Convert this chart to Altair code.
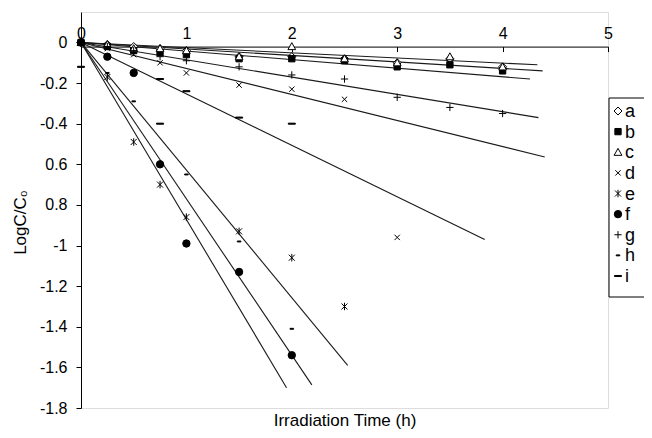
import altair as alt
import pandas as pd

series = ["a", "b", "c", "d", "e", "f", "g", "h", "i"]

# Irradiation times (h) and LogC/C0 values
t_std = [0, 0.25, 0.5, 0.75, 1, 1.5, 2, 2.5, 3, 3.5, 4]
a_vals = [0, -0.01, -0.02, -0.03, -0.04, -0.07, -0.07, -0.08, -0.10, -0.08, -0.12]
b_vals = [0, -0.02, -0.04, -0.05, -0.06, -0.08, -0.08, -0.09, -0.12, -0.11, -0.14]
c_vals = [0, -0.01, -0.03, -0.03, -0.04, -0.07, -0.02, -0.08, -0.10, -0.07, -0.12]
g_vals = [0, -0.02, -0.04, -0.07, -0.09, -0.12, -0.16, -0.18, -0.27, -0.32, -0.35]
d_t = [0, 0.25, 0.5, 0.75, 1, 1.5, 2, 2.5, 3]
d_vals = [0, -0.03, -0.06, -0.10, -0.15, -0.21, -0.23, -0.28, -0.96]
e_t = [0, 0.25, 0.5, 0.75, 1, 1.5, 2, 2.5]
e_vals = [0, -0.17, -0.49, -0.70, -0.86, -0.93, -1.06, -1.30]
f_t = [0, 0.25, 0.5, 0.75, 1, 1.5, 2]
f_vals = [0, -0.07, -0.15, -0.60, -0.99, -1.13, -1.54]
h_t = [0.25, 0.5, 1, 1.5, 2]
h_vals = [-0.15, -0.29, -0.65, -0.98, -1.41]
i_t = [0, 0.75, 0.75, 1, 1.5, 2]
i_vals = [-0.12, -0.18, -0.40, -0.24, -0.37, -0.40]

# Trend lines: start at origin, end points
trend_end_t = [4.33, 4.26, 4.38, 4.40, 2.53, 2.19, 4.34, 1.95, 3.83]
trend_end_v = [-0.11, -0.18, -0.14, -0.564, -1.59, -1.686, -0.37, -1.70, -0.97]

y_ticks = [0, -0.2, -0.4, -0.6, -0.8, -1, -1.2, -1.4, -1.6, -1.8]
x_ticks = [0, 1, 2, 3, 4, 5]

shape_paths = [
    "M0,-1L1,0L0,1L-1,0Z",
    "M-0.8,-0.8H0.8V0.8H-0.8Z",
    "M0,-1L1,0.8H-1Z",
    "M-0.7,-0.7L0.7,0.7M-0.7,0.7L0.7,-0.7",
    "M-0.8,-0.8L0.8,0.8M-0.8,0.8L0.8,-0.8M0,-1V1",
    "circle",
    "M-1,0H1M0,-1V1",
    "M-0.5,-0.13H0.5V0.13H-0.5Z",
    "M-1,-0.15H1V0.15H-1Z",
]
fills = ["white", "black", "white", "transparent", "transparent",
         "black", "transparent", "black", "black"]
sizes = [64, 49, 64, 49, 64, 90, 56, 64, 81]

rows = []
for s, ts, vs in [("a", t_std, a_vals), ("b", t_std, b_vals), ("c", t_std, c_vals),
                  ("d", d_t, d_vals), ("e", e_t, e_vals), ("f", f_t, f_vals),
                  ("g", t_std, g_vals), ("h", h_t, h_vals), ("i", i_t, i_vals)]:
    for t, v in zip(ts, vs):
        rows.append({"series": s, "sz": s, "t": t, "v": v})
points_df = pd.DataFrame(rows)

trows = []
for s, te, ve in zip(series, trend_end_t, trend_end_v):
    trows.append({"series": s, "t": 0, "v": 0})
    trows.append({"series": s, "t": te, "v": ve})
trend_df = pd.DataFrame(trows)

legend_df = pd.DataFrame({"series": series, "sz": series})
box_df = pd.DataFrame({"k": [0]})

FONT = "Liberation Sans"

x_scale = alt.Scale(domain=[0, 5], nice=False, zero=False)
y_scale = alt.Scale(domain=[-1.8, 0.15], nice=False, zero=False)

x_enc = alt.X(
    "t:Q",
    scale=x_scale,
    axis=alt.Axis(
        orient="bottom", offset=-361.4, values=x_ticks, grid=False,
        tickSize=5, tickColor="black", domainColor="black",
        labelBaseline="middle", labelPadding=-18, labelFontSize=16,
        labelFont=FONT, labelColor="black", labelFlush=False, labelOverlap=False,
        title="Irradiation Time (h)", titleX=263.5, titleY=374,
        titleBaseline="middle", titleAlign="center", titleFontSize=17,
        titleFont=FONT, titleFontWeight="normal", titleColor="black",
    ),
)
y_enc = alt.Y(
    "v:Q",
    scale=y_scale,
    axis=alt.Axis(
        orient="left", values=y_ticks, grid=False,
        tickSize=5, tickColor="black", domainColor="black",
        labelPadding=9, labelFontSize=16, labelFont=FONT, labelColor="black",
        labelOverlap=False, labelFlush=False,
        labelExpr="abs(datum.value + 0.6) < 0.001 ? '0.6' : abs(datum.value + 0.8) < 0.001 ? '0.8' : (datum.value < 0 ? '-' : '') + format(abs(datum.value), '')",
        title="LogC/C\u2080", titleX=-61, titleY=210, titleAngle=270,
        titleAlign="center", titleBaseline="middle", titleFontSize=17,
        titleFont=FONT, titleFontWeight="normal", titleColor="black",
    ),
)
y_enc_noaxis = alt.Y("v:Q", scale=y_scale, axis=None)

shape_enc = alt.Shape("series:N", scale=alt.Scale(domain=series, range=shape_paths), legend=None)
fill_enc = alt.Fill("series:N", scale=alt.Scale(domain=series, range=fills), legend=None)
size_enc = alt.Size("sz:N", scale=alt.Scale(domain=series, range=sizes), legend=None)

lines = alt.Chart(trend_df).mark_line(color="#1a1a1a", strokeWidth=1.1).encode(
    x=x_enc, y=y_enc, detail="series:N"
)

pts = alt.Chart(points_df).mark_point(
    filled=True, stroke="black", strokeWidth=1, opacity=1
).encode(x=x_enc, y=y_enc_noaxis, shape=shape_enc, fill=fill_enc, size=size_enc)

# Legend drawn as marks, entries positioned by their own point scale
leg_y = alt.Y("series:N", scale=alt.Scale(domain=series, range=[99, 264], padding=0), axis=None)

leg_box = alt.Chart(box_df).mark_rect(fill="white", stroke="black", strokeWidth=1).encode(
    x=alt.value(528), x2=alt.value(600), y=alt.value(86), y2=alt.value(285)
)
leg_pts = alt.Chart(legend_df).mark_point(
    filled=True, stroke="black", strokeWidth=1, opacity=1
).encode(x=alt.value(537), y=leg_y, shape=shape_enc, fill=fill_enc, size=size_enc)
leg_txt = alt.Chart(legend_df).mark_text(
    align="left", baseline="middle", fontSize=18, font=FONT, color="black", dy=1
).encode(x=alt.value(544), y=leg_y, text="series:N")

chart = alt.layer(lines, pts, leg_box, leg_pts, leg_txt).resolve_scale(
    y="independent"
).properties(
    width=527, height=396,
    autosize=alt.AutoSizeParams(type="none"),
    padding={"left": 73, "top": 4, "right": 36, "bottom": 22},
).configure_view(stroke=None).configure(font=FONT, background="white")

chart.save("out.html", embed_options={"renderer": "svg", "actions": False})
